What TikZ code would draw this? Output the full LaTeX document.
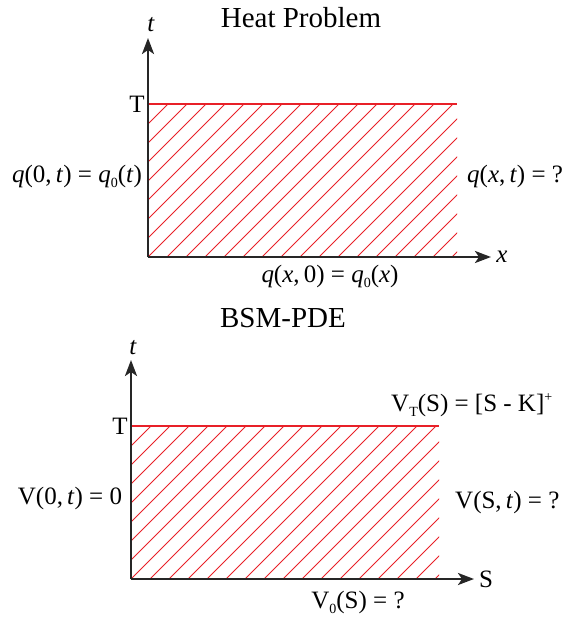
\documentclass[tikz,border=0pt]{standalone}
\usepackage{fontspec}
\setmainfont{Liberation Serif}
\usetikzlibrary{arrows.meta}
\definecolor{hred}{RGB}{232,32,40}
\newcommand\vi[1]{\textit{#1}}
\newcommand\sbs[1]{\raisebox{-0.45ex}{\fontsize{14}{14}\selectfont #1}}
\newcommand\sps[1]{\raisebox{0.9ex}{\fontsize{14}{14}\selectfont #1}}
\begin{document}
\begin{tikzpicture}[x=1pt,y=-1pt,
  lbl/.style={inner sep=0pt,font=\fontsize{25}{25}\selectfont},
  ttl/.style={inner sep=0pt,font=\fontsize{29}{29}\selectfont},
  axis/.style={line width=2.5pt,black!85,-{Stealth[length=16pt,width=12pt,inset=4pt]}},
  topline/.style={line width=2.2pt,hred},
  hatch/.style={line width=0.9pt,hred}]
\useasboundingbox (0,0) rectangle (564,623);
% ---------- Heat problem ----------
\coordinate (o1) at (148,257);
\coordinate (ty1) at (148,38);
\coordinate (tx1) at (491,257);
\coordinate (a1) at (148,104);
\coordinate (b1) at (457,104);
\begin{scope}
\clip (148,104) rectangle (457,257);
\foreach \k in {-9,...,17}{
  \draw[hatch] ({148+19*\k},257) -- ({301+19*\k},104);
}
\end{scope}
\draw[topline] (a1) -- (b1);
\draw[axis] (o1) -- (ty1);
\draw[axis] (o1) -- (tx1);
\node[ttl] (h1) at (301,18) {Heat Problem};
\node[lbl] (t1) at (151,25) {\vi{t}};
\node[lbl] (T1) at (137,104) {T};
\node[lbl] (x1) at (502,257) {\vi{x}};
\node[lbl] (l1) at (77,176) {\vi{q}(0,\,\vi{t}) = \vi{q}\sbs{0}(\vi{t})};
\node[lbl,anchor=west] (r1) at (467,176) {\vi{q}(\vi{x},\,\vi{t}) = ?};
\node[lbl] (bt1) at (330,276) {\vi{q}(\vi{x},\,0) = \vi{q}\sbs{0}(\vi{x})};
% ---------- BSM-PDE ----------
\coordinate (o2) at (131,579);
\coordinate (ty2) at (131,360);
\coordinate (tx2) at (474,579);
\coordinate (a2) at (131,426);
\coordinate (b2) at (439,426);
\begin{scope}
\clip (131,426) rectangle (439,579);
\foreach \k in {-9,...,17}{
  \draw[hatch] ({131+19*\k},579) -- ({284+19*\k},426);
}
\end{scope}
\draw[topline] (a2) -- (b2);
\draw[axis] (o2) -- (ty2);
\draw[axis] (o2) -- (tx2);
\node[ttl] (h2) at (283,318) {BSM-PDE};
\node[lbl] (t2) at (133,348) {\vi{t}};
\node[lbl] (T2) at (120,426) {T};
\node[lbl] (S2) at (486,579) {S};
\node[lbl,anchor=west] (vt) at (391,405) {V\sbs{T}(S) = [S - K]\sps{+}};
\node[lbl] (l2) at (70,498) {V(0,\,\vi{t}) = 0};
\node[lbl,anchor=west] (r2) at (455,502) {V(S,\,\vi{t}) = ?};
\node[lbl] (v0) at (358,602) {V\sbs{0}(S) = ?};
\end{tikzpicture}
\end{document}
